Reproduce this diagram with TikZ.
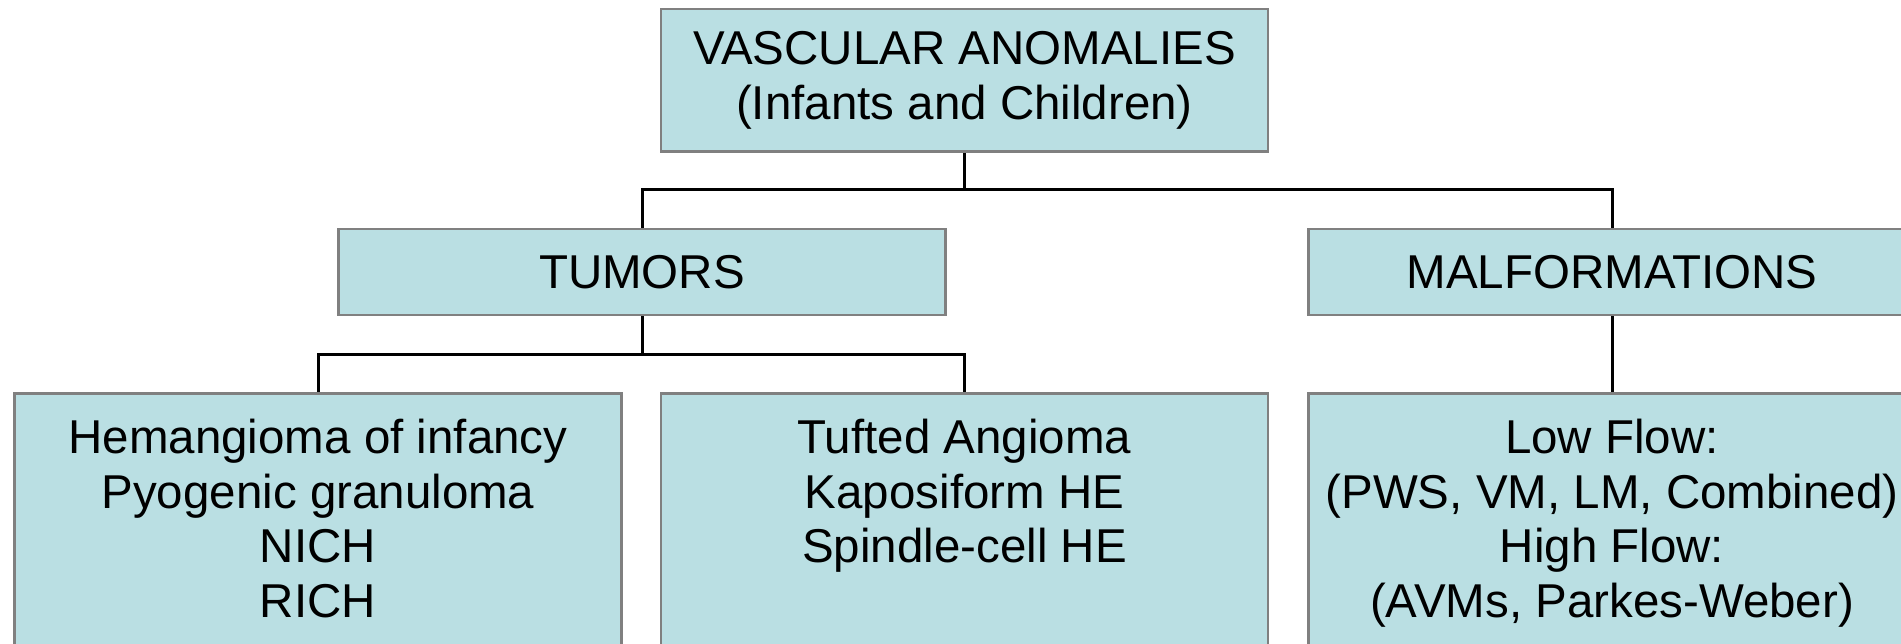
\documentclass[tikz,border=0pt]{standalone}
\usepackage{fontspec}
\setmainfont{Liberation Sans}
\definecolor{boxfill}{RGB}{186,223,227}
\definecolor{boxline}{RGB}{128,128,128}
\begin{document}
\begin{tikzpicture}[x=1pt,y=-1pt,
  box/.style={draw=boxline, line width=2.7pt, fill=boxfill, minimum width=607pt,
    inner sep=0pt, align=center, font=\fontsize{47.5}{54.6}\selectfont},
  leafbox/.style={box, anchor=north, inner ysep=22pt},
  conn/.style={draw=black, line width=3pt}]
\useasboundingbox (0,0) rectangle (1901,644);
\clip (0,0) rectangle (1901,644);
\node[box, minimum height=142.5pt] (root) at (964.5,80.3) {VASCULAR ANOMALIES\\(Infants and Children)};
\node[box, minimum height=86pt] (tum) at (642,272) {TUMORS};
\node[box, minimum height=86pt] (mal) at (1612,272) {MALFORMATIONS};
\node[leafbox] (hem) at (318,392) {\begin{minipage}[t][300pt][t]{600pt}\centering\strut Hemangioma of infancy\\Pyogenic granuloma\\NICH\\RICH\end{minipage}};
\node[leafbox] (tuf) at (964.5,392) {\begin{minipage}[t][300pt][t]{600pt}\centering\strut Tufted Angioma\\Kaposiform HE\\Spindle-cell HE\end{minipage}};
\node[leafbox] (low) at (1612,392) {\begin{minipage}[t][300pt][t]{600pt}\centering\strut Low Flow:\\(PWS, VM, LM, Combined)\\High Flow:\\(AVMs, Parkes-Weber)\end{minipage}};
\coordinate (j1) at (964.5,190);
\coordinate (j2) at (642,354);
\draw[conn] (root.south) -- (j1);
\draw[conn] (tum.north) |- (j1) -| (mal.north);
\draw[conn] (tum.south) -- (j2);
\draw[conn] (hem.north) |- (j2) -| (tuf.north);
\draw[conn] (mal.south) -- (low.north);
\end{tikzpicture}
\end{document}
